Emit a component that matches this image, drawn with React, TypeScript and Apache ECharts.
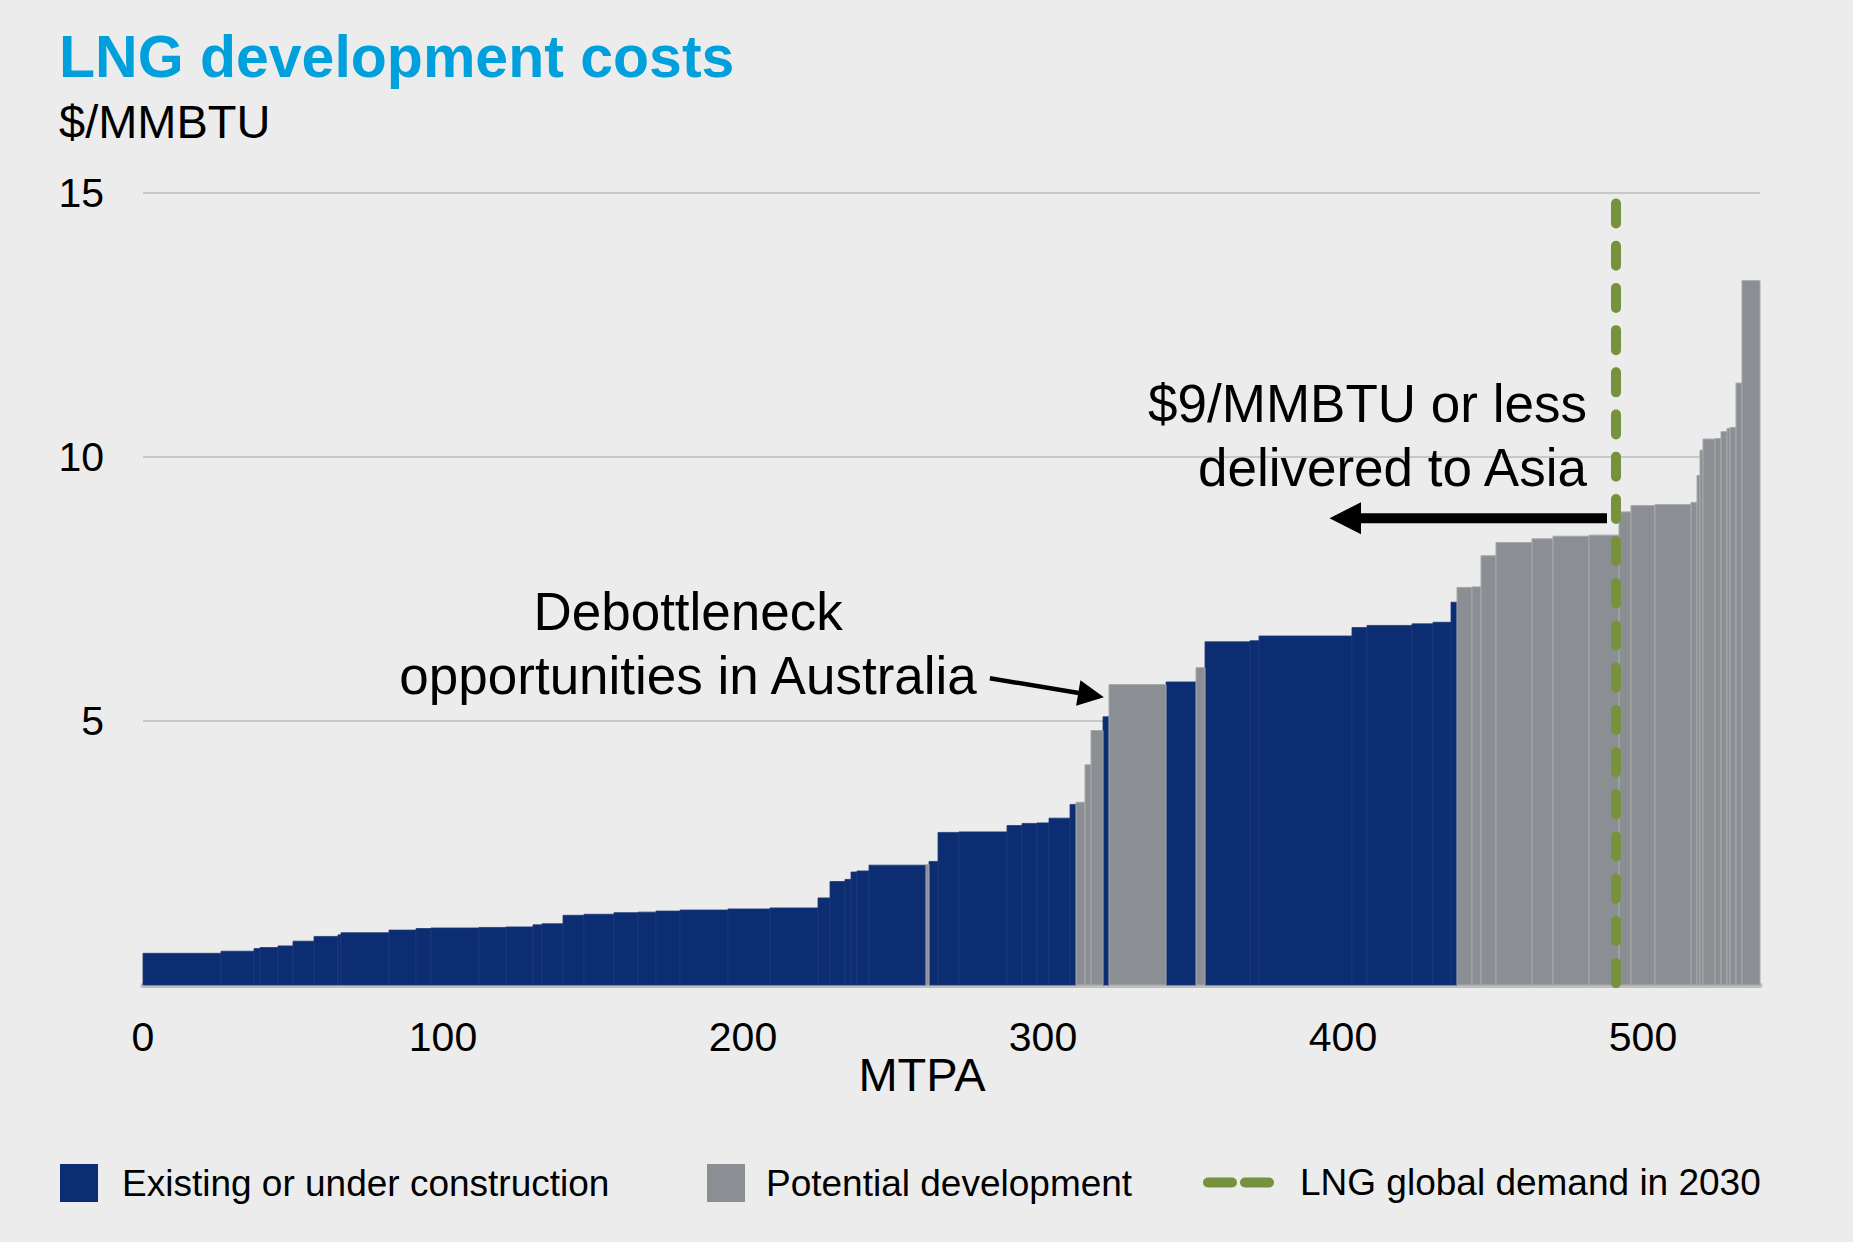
import React, { useEffect, useRef } from 'react';
import * as echarts from 'echarts';

// ---------- Data ----------
// Capacity of each project step (MTPA), in merit order
const capacityMtpa = [
  26, 11, 2, 6, 5, 7, 8, 1, 16, 9,
  5, 16, 9, 9, 3, 7, 7, 10, 8, 6,
  8, 16, 14, 16, 4, 5, 2, 2, 4, 19,
  1, 3, 7, 16, 5, 5, 4, 7, 2, 3,
  2, 4, 2, 19, 10, 3, 15, 3, 31, 5,
  15, 7, 6, 2, 5, 3, 5, 12, 7, 12,
  10, 4, 8, 12, 2, 1, 1, 4, 2, 2,
  1, 2, 2, 6,
];
// Development cost of each step ($/MMBTU)
const costUsdPerMmbtu = [
  0.6, 0.64, 0.69, 0.71, 0.74, 0.83, 0.92, 0.95, 0.99, 1.04,
  1.07, 1.08, 1.09, 1.1, 1.14, 1.16, 1.32, 1.34, 1.37, 1.38,
  1.4, 1.42, 1.44, 1.46, 1.65, 1.96, 2.0, 2.14, 2.16, 2.27,
  2.28, 2.34, 2.89, 2.9, 3.02, 3.06, 3.07, 3.16, 3.42, 3.46,
  4.17, 4.82, 5.08, 5.69, 5.74, 6.01, 6.5, 6.52, 6.61, 6.77,
  6.81, 6.84, 6.87, 7.25, 7.53, 7.54, 8.13, 8.38, 8.45, 8.5,
  8.52, 8.96, 9.08, 9.1, 9.14, 9.65, 10.13, 10.34, 10.35, 10.48,
  10.54, 10.56, 11.4, 13.34,
];
// E = existing or under construction, P = potential development
const projectStatus = [
  'E', 'E', 'E', 'E', 'E', 'E', 'E', 'E', 'E', 'E',
  'E', 'E', 'E', 'E', 'E', 'E', 'E', 'E', 'E', 'E',
  'E', 'E', 'E', 'E', 'E', 'E', 'E', 'E', 'E', 'E',
  'P', 'E', 'E', 'E', 'E', 'E', 'E', 'E', 'E', 'P',
  'P', 'P', 'E', 'P', 'E', 'P', 'E', 'E', 'E', 'E',
  'E', 'E', 'E', 'E', 'P', 'P', 'P', 'P', 'P', 'P',
  'P', 'P', 'P', 'P', 'P', 'P', 'P', 'P', 'P', 'P',
  'P', 'P', 'P', 'P',
];
// LNG global demand in 2030 (MTPA) and the height the marker line reaches
const demand2030Mtpa = 491;
const demandLineTop = 14.8;

const xTicks = [0, 100, 200, 300, 400, 500];
const yTicks = [0, 5, 10, 15];

const SERIES_EXISTING = 'Existing or under construction';
const SERIES_POTENTIAL = 'Potential development';
const SERIES_DEMAND = 'LNG global demand in 2030';

// ---------- Styles ----------
const FONT = '"Liberation Sans", Arial, Helvetica, sans-serif';
const BLUE = '#0C2D72';
const GRAY = '#8B8E92';
const GREEN = '#76923C';
const TITLE_BLUE = '#00A0DC';
const BG = '#ECECEC';

function buildSteps(code: string) {
  const out: number[][] = [];
  let start = 0;
  for (let i = 0; i < capacityMtpa.length; i++) {
    const end = start + capacityMtpa[i];
    if (projectStatus[i] === code) out.push([start, end, costUsdPerMmbtu[i]]);
    start = end;
  }
  return out;
}

function stepRenderer(fill: string, stroke: string, lineWidth: number) {
  return (params: any, api: any) => {
    const x0 = api.value(0);
    const x1 = api.value(1);
    const v = api.value(2);
    const tl = api.coord([x0, v]);
    const br = api.coord([x1, 0]);
    return {
      type: 'rect',
      shape: { x: tl[0], y: tl[1], width: br[0] - tl[0], height: br[1] - tl[1] },
      style: { fill, stroke, lineWidth },
    };
  };
}

function arrow(p0: number[], p1: number[], lineW: number, headLen: number, headHalf: number) {
  const dx = p1[0] - p0[0];
  const dy = p1[1] - p0[1];
  const L = Math.hypot(dx, dy);
  const ux = dx / L;
  const uy = dy / L;
  const nx = -uy;
  const ny = ux;
  const bx = p1[0] - ux * headLen;
  const by = p1[1] - uy * headLen;
  return [
    {
      type: 'line',
      z: 10,
      shape: { x1: p0[0], y1: p0[1], x2: bx + ux * 2, y2: by + uy * 2 },
      style: { stroke: '#000', lineWidth: lineW },
    },
    {
      type: 'polygon',
      z: 10,
      shape: {
        points: [
          [p1[0], p1[1]],
          [bx + nx * headHalf, by + ny * headHalf],
          [bx - nx * headHalf, by - ny * headHalf],
        ],
      },
      style: { fill: '#000' },
    },
  ];
}

export default function App() {
  const ref = useRef<HTMLDivElement>(null);

  useEffect(() => {
    document.body.style.margin = '0';
    if (!ref.current) return;
    const chart = echarts.init(ref.current, null, { renderer: 'svg' });

    const legendBase = {
      orient: 'horizontal',
      top: 1164,
      padding: 0,
      itemHeight: 38,
      selectedMode: false,
    };

    const option: any = {
      animation: false,
      backgroundColor: BG,
      title: {
        text: 'LNG development costs',
        subtext: '$/MMBTU',
        left: 59,
        top: 28,
        padding: 0,
        itemGap: 10.5,
        textStyle: { fontSize: 59, fontWeight: 'bold', color: TITLE_BLUE, fontFamily: FONT, lineHeight: 58 },
        subtextStyle: { fontSize: 47, color: '#000', fontFamily: FONT, lineHeight: 47 },
      },
      grid: { left: 143, right: 93, top: 193, bottom: 257, containLabel: false, outerBoundsMode: 'none' },
      xAxis: {
        type: 'value',
        min: xTicks[0],
        max: 539,
        interval: xTicks[1] - xTicks[0],
        name: 'MTPA',
        nameLocation: 'middle',
        nameGap: 66,
        nameMoveOverlap: false,
        nameTextStyle: { fontSize: 47, color: '#000', fontFamily: FONT, padding: [0, 59, 0, 0] },
        axisLine: { show: true, lineStyle: { color: '#BFBFBF', width: 5 } },
        axisTick: { show: false },
        splitLine: { show: false },
        axisLabel: { fontSize: 41, color: '#000', fontFamily: FONT, margin: 31, showMaxLabel: false },
      },
      yAxis: {
        type: 'value',
        min: yTicks[0],
        max: yTicks[yTicks.length - 1],
        interval: yTicks[1] - yTicks[0],
        axisLine: { show: false },
        axisTick: { show: false },
        axisLabel: { fontSize: 41, color: '#000', fontFamily: FONT, margin: 39, showMinLabel: false },
        splitLine: { show: true, lineStyle: { color: '#C8C8C8', width: 2 } },
      },
      legend: [
        {
          ...legendBase,
          left: 60,
          itemWidth: 38,
          data: [{ name: SERIES_EXISTING, icon: 'rect' }],
          textStyle: { fontSize: 37, color: '#000', fontFamily: FONT, padding: [0, 0, 0, 19] },
        },
        {
          ...legendBase,
          left: 707,
          itemWidth: 38,
          data: [{ name: SERIES_POTENTIAL, icon: 'rect' }],
          textStyle: { fontSize: 37, color: '#000', fontFamily: FONT, padding: [0, 0, 0, 16] },
        },
        {
          ...legendBase,
          left: 1203,
          itemWidth: 71,
          data: [
            {
              name: SERIES_DEMAND,
              icon: 'path://M5,0 H29 A5,5 0 0 1 29,10 H5 A5,5 0 0 1 5,0 Z M42,0 H66 A5,5 0 0 1 66,10 H42 A5,5 0 0 1 42,0 Z',
            },
          ],
          itemStyle: { color: GREEN, borderWidth: 0 },
          textStyle: { fontSize: 37, color: '#000', fontFamily: FONT, padding: [0, 0, 0, 21] },
        },
      ],
      series: [
        {
          name: SERIES_EXISTING,
          type: 'custom',
          itemStyle: { color: BLUE },
          encode: { x: [0, 1], y: 2 },
          data: buildSteps('E'),
          renderItem: stepRenderer(BLUE, '#1C3A79', 0.8),
          z: 2,
        },
        {
          name: SERIES_POTENTIAL,
          type: 'custom',
          itemStyle: { color: GRAY },
          encode: { x: [0, 1], y: 2 },
          data: buildSteps('P'),
          renderItem: stepRenderer(GRAY, '#A6A8AB', 1),
          z: 2,
        },
        {
          name: SERIES_DEMAND,
          type: 'line',
          symbol: 'none',
          itemStyle: { color: GREEN },
          lineStyle: { color: GREEN, width: 10, type: [20, 22.2], cap: 'round' },
          data: [
            [demand2030Mtpa, demandLineTop],
            [demand2030Mtpa, 0],
          ],
          z: 5,
        },
      ],
    };

    chart.setOption(option);

    const px = (x: number, y: number) => chart.convertToPixel({ gridIndex: 0 }, [x, y]) as number[];

    const debText = px(181.7, 6.475);
    const asiaText = px(481.3, 10.4);
    const graphic: any[] = [
      {
        type: 'text',
        x: debText[0],
        y: debText[1],
        z: 10,
        style: {
          text: 'Debottleneck\nopportunities in Australia',
          fontSize: 53,
          fontFamily: FONT,
          fill: '#000',
          align: 'center',
          verticalAlign: 'middle',
          lineHeight: 64,
        },
      },
      {
        type: 'text',
        x: asiaText[0],
        y: asiaText[1],
        z: 10,
        style: {
          text: '$9/MMBTU or less\ndelivered to Asia',
          fontSize: 53,
          fontFamily: FONT,
          fill: '#000',
          align: 'right',
          verticalAlign: 'middle',
          lineHeight: 64,
        },
      },
      ...arrow(px(282.3, 5.81), px(320.3, 5.45), 4.5, 26, 13),
      ...arrow(px(488, 8.84), px(395.5, 8.84), 10, 31.5, 16),
    ];
    chart.setOption({ graphic });

    return () => chart.dispose();
  }, []);

  return (
    <div
      ref={ref}
      style={{ position: 'fixed', left: 0, top: 0, width: 1853, height: 1242 }}
    />
  );
}
